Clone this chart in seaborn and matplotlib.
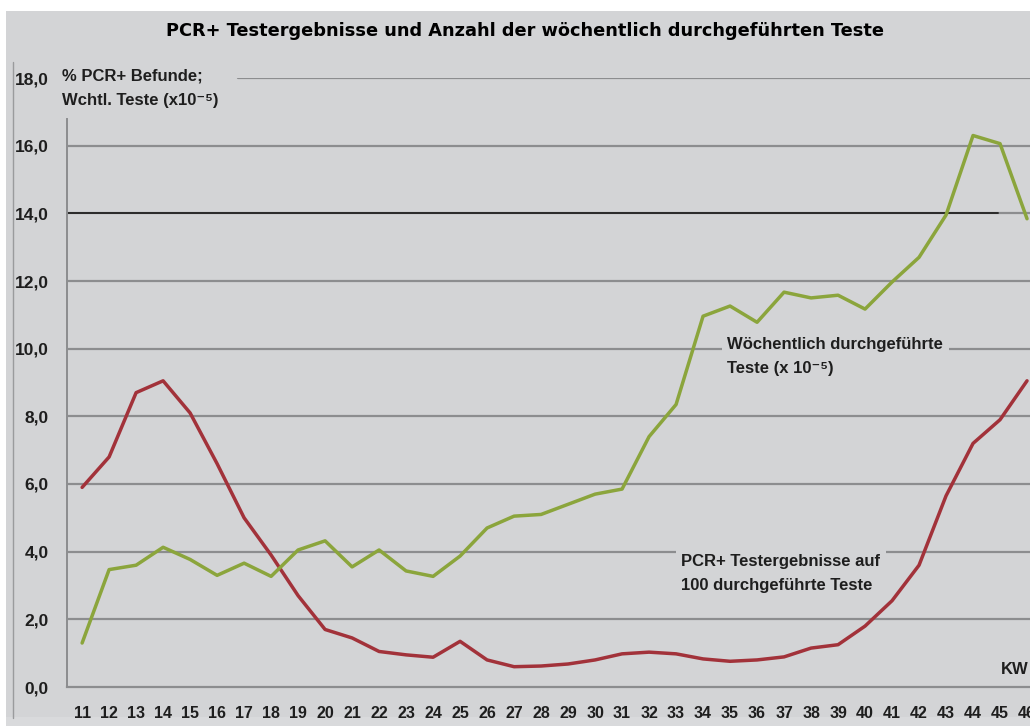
import matplotlib
matplotlib.use("Agg")
import matplotlib.pyplot as plt
import seaborn as sns
import pandas as pd

# --- data ---
weeks = list(range(11, 47))
pcr_pos = [5.9, 6.8, 8.7, 9.05, 8.1, 6.6, 5.0, 3.9, 2.7, 1.7, 1.45, 1.05,
           0.95, 0.88, 1.35, 0.8, 0.6, 0.62, 0.68, 0.8, 0.98, 1.03, 0.98, 0.83,
           0.76, 0.8, 0.89, 1.15, 1.25, 1.8, 2.55, 3.6, 5.65, 7.2, 7.9, 9.05]
tests = [1.3, 3.47, 3.6, 4.13, 3.77, 3.3, 3.66, 3.27, 4.05, 4.32, 3.55, 4.05,
         3.43, 3.27, 3.87, 4.7, 5.05, 5.1, 5.4, 5.7, 5.85, 7.4, 8.35, 10.96,
         11.26, 10.78, 11.67, 11.5, 11.58, 11.17, 11.97, 12.7, 13.95, 16.3,
         16.06, 13.84]
y_ticks = [0, 2, 4, 6, 8, 10, 12, 14, 16, 18]
y_labels = ["0,0", "2,0", "4,0", "6,0", "8,0", "10,0", "12,0", "14,0", "16,0", "18,0"]

df = pd.DataFrame({"KW": weeks, "pcr": pcr_pos, "tests": tests})

BG = "#d3d4d6"
GRID = "#8c8d8f"
RED = "#a2323a"
GREEN = "#8ba53c"
TXT = "#1e1e1e"

sns.set_style("white")
plt.rcParams["font.family"] = ["Liberation Sans", "DejaVu Sans"]

W, H = 1030, 726
fig = plt.figure(figsize=(W / 100, H / 100), dpi=100, facecolor="white")

# gray panel behind everything
fig.patches.append(plt.Rectangle((6 / W, 0), 1, 1 - 11 / H, transform=fig.transFigure,
                                 facecolor=BG, edgecolor="none", zorder=-10))
fig.patches.append(plt.Rectangle((6 / W, 0), 1, 9 / H, transform=fig.transFigure,
                                 facecolor="#d9dadc", edgecolor="none", zorder=-9))
fig.lines.append(plt.Line2D([13 / W, 13 / W], [1 - 718 / H, 1 - 62 / H],
                            transform=fig.transFigure, color="#9a9b9d", lw=1))

ax = fig.add_axes([67 / W, (H - 687) / H, (W - 67) / W, (687 - 78) / H])
ax.set_facecolor(BG)

# gridlines
for v in y_ticks:
    if v == 0:
        continue
    if v == 18:
        ax.axhline(v, xmin=(238 - 67) / (W - 67), color=GRID, lw=1.6, zorder=1)
    elif v == 14:
        ax.axhline(v, color=GRID, lw=1.6, zorder=1)
        ax.axhline(v, xmax=(998 - 67) / (W - 67), color="#2a2a2a", lw=1.4, zorder=1)
    else:
        ax.axhline(v, color=GRID, lw=1.6, zorder=1)

sns.lineplot(data=df, x="KW", y="pcr", ax=ax, color=RED, lw=2.5, zorder=3)
sns.lineplot(data=df, x="KW", y="tests", ax=ax, color=GREEN, lw=2.5, zorder=4)

ax.set_xlim(10.44, 46.11)
ax.set_ylim(0, 18)

for s in ["top", "right"]:
    ax.spines[s].set_visible(False)
ax.spines["left"].set_color(GRID)
ax.spines["left"].set_linewidth(1.4)
ax.spines["left"].set_bounds(0, 16.8)
ax.spines["bottom"].set_color(GRID)
ax.spines["bottom"].set_linewidth(1.6)

ax.set_xticks(weeks)
ax.set_xticklabels([str(w) for w in weeks])
ax.set_xticks([w - 0.5 for w in weeks], minor=True)
ax.tick_params(axis="x", which="major", length=0, pad=14, labelsize=11.5, labelcolor=TXT)
ax.tick_params(axis="x", which="minor", length=5, width=1.2, color=GRID, direction="out")
for lab in ax.get_xticklabels():
    lab.set_fontweight("bold")

ax.set_yticks(y_ticks)
ax.set_yticklabels(y_labels)
ax.tick_params(axis="y", length=5, width=1.2, color=GRID, pad=8, labelsize=12.5, labelcolor=TXT)
for lab in ax.get_yticklabels():
    lab.set_fontweight("bold")
ax.set_xlabel("")
ax.set_ylabel("")

# texts
fig.text(0.51, 1 - 31 / H, "PCR+ Testergebnisse und Anzahl der wöchentlich durchgeführten Teste",
         ha="center", va="center", fontsize=12.8, fontweight="bold", color="black",
         family="DejaVu Sans")
fig.text(62 / W, 1 - 88 / H, "% PCR+ Befunde;\nWchtl. Teste (x10⁻⁵)", ha="left", va="center",
         fontsize=12, fontweight="bold", color=TXT, linespacing=1.75)
ax.text(34.9, 10.35, "Wöchentlich durchgeführte\nTeste (x 10⁻⁵)", ha="left", va="top",
        fontsize=12, fontweight="bold", color=TXT, linespacing=1.75, zorder=2,
        bbox=dict(facecolor=BG, edgecolor="none", pad=4))
ax.text(33.2, 3.92, "PCR+ Testergebnisse auf\n100 durchgeführte Teste", ha="left", va="top",
        fontsize=12, fontweight="bold", color=TXT, linespacing=1.75, zorder=2,
        bbox=dict(facecolor=BG, edgecolor="none", pad=4))
ax.text(46.05, 0.3, "KW", ha="right", va="bottom", fontsize=12, fontweight="bold", color=TXT)

fig.savefig("out.png", dpi=100, facecolor="white")
